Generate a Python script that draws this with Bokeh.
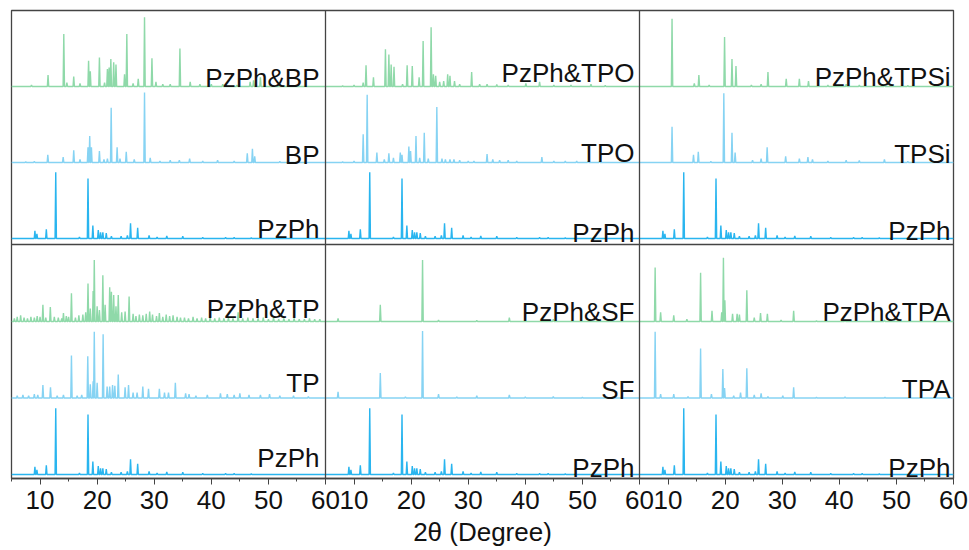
from bokeh.plotting import figure
from bokeh.models import Span, FixedTicker, AllLabels, Range1d, ColumnDataSource
from bokeh.core.properties import value
from bokeh.embed import file_html
from bokeh.resources import INLINE

# ---------------- data: 2θ (degree) and relative intensity ----------------
pzph_2theta = [9.1, 9.45, 11.1, 12.75, 16.9, 18.4, 19.25, 20.2, 20.6, 21.0, 21.6, 22.5, 24.2, 25.3,
               25.85, 27.1, 29.1, 30.5, 32.2, 35.0, 38.5, 42.5, 44.0, 47.0]
pzph_int = [0.10, 0.06, 0.12, 0.87, 0.02, 0.79, 0.17, 0.11, 0.08, 0.08, 0.07, 0.03, 0.03, 0.04,
            0.20, 0.14, 0.04, 0.02, 0.035, 0.03, 0.015, 0.015, 0.015, 0.01]

bp_2theta = [7.5, 9.0, 11.36, 14.05, 15.9, 17.0, 18.4, 18.7, 19.0, 20.4, 21.2, 21.8, 22.46, 23.5, 24.0,
             25.1, 26.5, 28.3, 29.3, 31.0, 32.8, 34.4, 36.2, 38.5, 41.1, 44.0, 46.3, 47.2, 47.6, 52.0]
bp_int = [0.01, 0.015, 0.10, 0.07, 0.16, 0.04, 0.20, 0.35, 0.20, 0.15, 0.04, 0.05, 0.72, 0.20, 0.05,
          0.14, 0.04, 0.92, 0.06, 0.02, 0.03, 0.03, 0.05, 0.02, 0.03, 0.02, 0.12, 0.18, 0.08, 0.015]

pzph_bp_2theta = [8.5, 11.4, 14.16, 14.7, 15.9, 17.0, 18.5, 18.8, 20.4, 21.3, 21.8, 22.1, 22.4, 22.9,
                  23.3, 24.8, 25.2, 26.3, 27.2, 28.3, 29.6, 30.3, 31.5, 32.8, 34.5, 36.3, 38.0, 40.0,
                  42.0, 44.5, 46.8, 47.4, 48.6]
pzph_bp_int = [0.02, 0.15, 0.69, 0.05, 0.13, 0.04, 0.34, 0.20, 0.38, 0.05, 0.23, 0.25, 0.36, 0.32,
               0.29, 0.16, 0.69, 0.04, 0.10, 0.91, 0.37, 0.06, 0.03, 0.03, 0.50, 0.06, 0.03, 0.03,
               0.03, 0.02, 0.06, 0.08, 0.12]

tpo_2theta = [8.0, 10.0, 11.6, 12.3, 14.0, 15.3, 16.1, 16.9, 18.1, 18.4, 19.6, 19.9, 20.85, 21.5, 22.3,
              23.0, 24.5, 25.4, 26.0, 26.8, 27.5, 28.5, 30.0, 31.0, 33.3, 34.3, 35.5, 37.0, 38.5, 42.9,
              45.0, 47.0, 49.0, 51.0, 53.0]
tpo_int = [0.01, 0.02, 0.37, 0.89, 0.13, 0.04, 0.12, 0.06, 0.13, 0.10, 0.21, 0.15, 0.35, 0.06, 0.39,
           0.05, 0.73, 0.05, 0.04, 0.04, 0.04, 0.03, 0.02, 0.02, 0.11, 0.04, 0.03, 0.03, 0.02, 0.07,
           0.02, 0.02, 0.02, 0.015, 0.015]

pzph_tpo_2theta = [8.0, 10.0, 11.6, 12.1, 13.4, 15.5, 16.1, 16.5, 17.0, 18.5, 19.3, 20.2, 21.4, 22.1,
                   23.5, 23.9, 24.3, 25.0, 25.7, 26.4, 26.8, 27.6, 28.5, 30.6, 32.0, 33.3, 35.0, 37.0,
                   40.1, 42.5, 45.0, 48.0, 51.5, 54.0]
pzph_tpo_int = [0.01, 0.02, 0.05, 0.28, 0.12, 0.49, 0.42, 0.29, 0.26, 0.03, 0.28, 0.27, 0.12, 0.60,
                0.78, 0.16, 0.14, 0.06, 0.07, 0.16, 0.14, 0.07, 0.03, 0.19, 0.03, 0.03, 0.025, 0.02,
                0.04, 0.06, 0.02, 0.02, 0.03, 0.015]

tpsi_2theta = [10.7, 14.46, 15.3, 17.5, 19.77, 21.2, 21.75, 24.8, 26.3, 27.36, 30.6, 33.0, 34.5, 35.3,
               38.0, 41.2, 43.5, 47.9, 52.0]
tpsi_int = [0.47, 0.10, 0.14, 0.015, 0.91, 0.39, 0.13, 0.03, 0.05, 0.20, 0.08, 0.05, 0.07, 0.04,
            0.02, 0.03, 0.025, 0.04, 0.015]

pzph_tpsi_2theta = [10.7, 14.6, 15.4, 17.2, 19.9, 21.2, 21.9, 24.6, 26.3, 27.5, 30.7, 33.0, 34.6, 38.0,
                    41.2, 43.5, 47.9, 52.0]
pzph_tpsi_int = [0.89, 0.04, 0.15, 0.02, 0.65, 0.36, 0.27, 0.02, 0.03, 0.19, 0.10, 0.10, 0.07, 0.02,
                 0.03, 0.02, 0.03, 0.015]

tp_2theta = [6.0, 7.0, 8.0, 9.0, 9.6, 10.5, 11.83, 13.0, 14.1, 15.5, 16.5, 17.3, 18.36, 18.8, 19.3, 19.5,
             20.0, 21.05, 21.75, 22.2, 22.7, 23.1, 23.7, 24.9, 25.5, 26.3, 27.0, 28.0, 29.0, 30.9, 31.8,
             32.5, 33.7, 35.5, 36.1, 37.3, 39.3, 41.6, 42.8, 44.0, 45.0, 46.6, 48.6, 50.2, 52.0, 54.4, 57.0]
tp_int = [0.03, 0.04, 0.03, 0.05, 0.04, 0.17, 0.14, 0.03, 0.04, 0.56, 0.03, 0.04, 0.55, 0.18, 0.22, 0.87,
          0.20, 0.84, 0.15, 0.15, 0.17, 0.16, 0.31, 0.14, 0.17, 0.07, 0.07, 0.15, 0.12, 0.12, 0.07,
          0.07, 0.20, 0.06, 0.05, 0.03, 0.04, 0.06, 0.05, 0.04, 0.06, 0.04, 0.04, 0.05, 0.03, 0.03, 0.02]

pzph_tp_2theta = [5.5, 6.0, 6.6, 7.2, 7.8, 8.4, 9.0, 9.5, 10.0, 10.5, 11.0, 11.8, 12.5, 13.2, 13.8, 14.1,
                  14.6, 15.0, 15.5, 16.2, 16.8, 17.5, 18.0, 18.4, 18.8, 19.3, 19.5, 20.0, 20.4, 21.0,
                  21.4, 22.2, 22.5, 22.9, 23.3, 23.7, 24.3, 24.9, 25.6, 26.3, 26.8, 27.4, 28.0, 28.6,
                  29.2, 29.7, 30.4, 30.9, 31.5, 32.1, 32.7, 33.3, 34.0, 34.6, 35.3, 36.0, 36.8, 37.5,
                  38.3, 39.0, 39.8, 40.6, 41.4, 42.2, 43.0, 43.8, 44.7, 45.5, 46.4, 47.3, 48.2, 49.1,
                  50.0, 50.9, 51.8, 52.7, 53.6, 54.5, 55.4, 56.3, 57.2, 58.1, 59.0]
pzph_tp_int = [0.04, 0.06, 0.08, 0.05, 0.04, 0.06, 0.05, 0.07, 0.06, 0.22, 0.05, 0.19, 0.06, 0.05, 0.04,
               0.11, 0.07, 0.06, 0.37, 0.05, 0.08, 0.09, 0.12, 0.50, 0.17, 0.40, 0.81, 0.20, 0.15,
               0.61, 0.22, 0.45, 0.39, 0.35, 0.20, 0.35, 0.12, 0.13, 0.33, 0.10, 0.07, 0.09, 0.08,
               0.10, 0.13, 0.09, 0.07, 0.11, 0.06, 0.09, 0.07, 0.08, 0.06, 0.05, 0.05, 0.04, 0.06,
               0.04, 0.05, 0.04, 0.06, 0.04, 0.05, 0.04, 0.05, 0.04, 0.12, 0.04, 0.05, 0.04, 0.04,
               0.05, 0.03, 0.05, 0.03, 0.04, 0.03, 0.04, 0.03, 0.03, 0.04, 0.03, 0.03]

sf_2theta = [7.2, 14.6, 19.0, 22.0, 24.8, 28.0, 31.5, 37.2, 40.0, 44.9, 50.0]
sf_int = [0.08, 0.33, 0.015, 0.88, 0.05, 0.015, 0.03, 0.04, 0.015, 0.02, 0.01]

pzph_sf_2theta = [7.2, 14.6, 22.0, 24.8, 31.5, 37.2, 44.9]
pzph_sf_int = [0.04, 0.22, 0.81, 0.02, 0.015, 0.05, 0.03]

tpa_2theta = [7.74, 8.7, 11.0, 13.5, 15.7, 17.6, 19.6, 19.9, 21.5, 22.7, 23.8, 25.1, 26.3, 27.5, 30.1,
              32.0, 36.0, 41.0, 48.0]
tpa_int = [0.87, 0.05, 0.05, 0.02, 0.65, 0.05, 0.38, 0.13, 0.03, 0.07, 0.39, 0.04, 0.06, 0.02, 0.03,
           0.14, 0.01, 0.015, 0.01]

pzph_tpa_2theta = [7.74, 8.7, 11.0, 13.3, 15.7, 17.7, 19.4, 19.7, 19.95, 21.3, 22.1, 22.5, 23.8, 25.1,
                   26.2, 27.4, 29.8, 32.0, 36.0, 41.0, 47.9]
pzph_tpa_int = [0.71, 0.12, 0.08, 0.03, 0.64, 0.14, 0.12, 0.84, 0.28, 0.10, 0.10, 0.09, 0.41, 0.05,
                0.11, 0.10, 0.02, 0.14, 0.01, 0.02, 0.02]

x_ticks = [10, 20, 30, 40, 50, 60]
x_title = "2θ (Degree)"

# ---------------- layout / style ----------------
C_PZPH = "#29b5ef"
C_HOST = "#86d3f3"
C_MIX = "#8fd9a9"
FRAME = "#444444"
FONT = value("Liberation Sans")

X0, X1 = 5, 60
SPAN = X1 - X0
PXU = 76.0  # pixels per intensity unit
ROW_SPLIT = 234 / PXU
TOP = 468 / PXU
BASE = {1: [ROW_SPLIT + 6 / PXU, ROW_SPLIT + 82 / PXU, ROW_SPLIT + 158 / PXU],
        0: [4 / PXU, 80.5 / PXU, 157 / PXU]}

# (col, row, traces bottom->top, label offsets above baseline in px, right offset px)
panels = [
    (0, 1, [("PzPh", pzph_2theta, pzph_int, C_PZPH), ("BP", bp_2theta, bp_int, C_HOST),
            ("PzPh&BP", pzph_bp_2theta, pzph_bp_int, C_MIX)], [10, 8, 9], -6),
    (1, 1, [("PzPh", pzph_2theta, pzph_int, C_PZPH), ("TPO", tpo_2theta, tpo_int, C_HOST),
            ("PzPh&TPO", pzph_tpo_2theta, pzph_tpo_int, C_MIX)], [6, 10, 14], -5),
    (2, 1, [("PzPh", pzph_2theta, pzph_int, C_PZPH), ("TPSi", tpsi_2theta, tpsi_int, C_HOST),
            ("PzPh&TPSi", pzph_tpsi_2theta, pzph_tpsi_int, C_MIX)], [8, 9, 10], -3),
    (0, 0, [("PzPh", pzph_2theta, pzph_int, C_PZPH), ("TP", tp_2theta, tp_int, C_HOST),
            ("PzPh&TP", pzph_tp_2theta, pzph_tp_int, C_MIX)], [17, 15, 13], -6),
    (1, 0, [("PzPh", pzph_2theta, pzph_int, C_PZPH), ("SF", sf_2theta, sf_int, C_HOST),
            ("PzPh&SF", pzph_sf_2theta, pzph_sf_int, C_MIX)], [7, 8, 10], -5),
    (2, 0, [("PzPh", pzph_2theta, pzph_int, C_PZPH), ("TPA", tpa_2theta, tpa_int, C_HOST),
            ("PzPh&TPA", pzph_tpa_2theta, pzph_tpa_int, C_MIX)], [7, 9, 10], -3),
]

HW = 0.12  # half width of a drawn peak, degree


def spikes(theta, inten):
    pairs = sorted(zip(theta, inten))
    xs, ys = [X0], [0.0]
    for t, h in pairs:
        xs += [t - HW, t, t + HW]
        ys += [0.0, h, 0.0]
    xs.append(X1)
    ys.append(0.0)
    return xs, ys


p = figure(width=969, height=550, output_backend="svg", toolbar_location=None,
           x_range=Range1d(0, 3 * SPAN), y_range=Range1d(0, TOP),
           y_axis_location=None, min_border=0,
           min_border_left=11, min_border_right=16, min_border_top=10, min_border_bottom=72)
p.xgrid.visible = False
p.ygrid.visible = False
p.outline_line_color = FRAME
p.outline_line_width = 1.3
p.background_fill_color = "white"
p.border_fill_color = "white"

lab_x, lab_y, lab_t, lab_xo = [], [], [], []
for col, row, traces, offs, xo in panels:
    for k, (name, th, it, color) in enumerate(traces):
        xs, ys = spikes(th, it)
        base = BASE[row][k]
        gx = [col * SPAN + (x - X0) for x in xs]
        gy = [base + y for y in ys]
        p.line(gx, gy, line_color=color, line_width=1.4)
        lab_x.append((col + 1) * SPAN)
        lab_y.append(base + offs[k] / PXU)
        lab_t.append(name)
        lab_xo.append(xo)

src = ColumnDataSource(dict(x=lab_x, y=lab_y, text=lab_t, xo=lab_xo))
p.text(x="x", y="y", text="text", x_offset="xo", source=src, text_align="right",
       text_baseline="alphabetic", text_font=FONT, text_font_size="26px", text_color="#111111")

for c in (1, 2):
    p.add_layout(Span(location=c * SPAN, dimension="height", line_color=FRAME, line_width=1.3))
p.add_layout(Span(location=ROW_SPLIT, dimension="width", line_color=FRAME, line_width=1.3))

major, labels, minor = [], {}, []
for c in range(3):
    for t in x_ticks:
        g = c * SPAN + (t - X0)
        major.append(g)
        labels[g] = str(t)
    for t in range(5, 60, 10):
        minor.append(c * SPAN + (t - X0))
p.xaxis.ticker = FixedTicker(ticks=major, minor_ticks=minor)
p.xaxis.major_label_overrides = labels
p.xaxis.major_label_policy = AllLabels()
p.xaxis.axis_label = x_title
p.xaxis.axis_label_text_font = "Liberation Sans"
p.xaxis.axis_label_text_font_style = "normal"
p.xaxis.axis_label_text_font_size = "26px"
p.xaxis.axis_label_text_color = "#111111"
p.xaxis.axis_label_standoff = 5
p.xaxis.major_label_text_font = "Liberation Sans"
p.xaxis.major_label_text_font_size = "26px"
p.xaxis.major_label_text_color = "#111111"
p.xaxis.major_label_standoff = 6
p.xaxis.axis_line_color = FRAME
p.xaxis.axis_line_width = 1.3
p.xaxis.major_tick_line_color = FRAME
p.xaxis.minor_tick_line_color = FRAME
p.xaxis.major_tick_out = 6
p.xaxis.major_tick_in = 0
p.xaxis.minor_tick_out = 3
p.xaxis.minor_tick_in = 0

open("out.html", "w").write(file_html(p, INLINE))
